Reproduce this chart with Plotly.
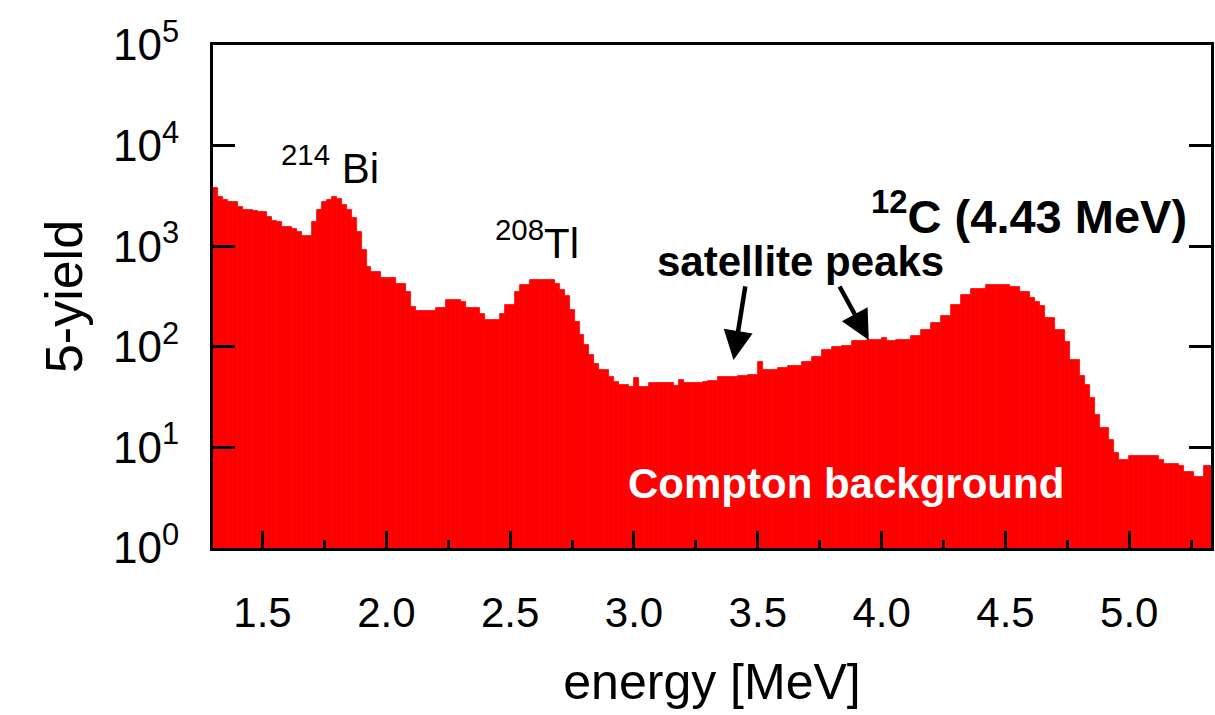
import plotly.graph_objects as go

# gamma spectrum, 0.02 MeV bins starting at 1.30 MeV
bin_start = 1.30
bin_width = 0.02
counts = [
    3800, 3080, 2900, 2750, 2750, 2450, 2290, 2290, 2240, 2190,
    2190, 1950, 1800, 1740, 1550, 1550, 1480, 1380, 1260, 1260,
    1740, 2290, 2750, 2900, 3080, 2950, 2570, 2290, 1900, 1380,
    916, 620, 554, 554, 483, 483, 483, 421, 421, 351,
    250, 227, 227, 227, 227, 243, 243, 292, 292, 292,
    279, 243, 243, 243, 212, 185, 185, 185, 212, 260,
    260, 351, 411, 411, 461, 461, 461, 461, 461, 421,
    367, 320, 232, 176, 131, 104, 83, 67, 59, 59,
    50, 45, 42, 42, 40, 49, 40, 40, 44, 44,
    44, 44, 44, 41, 47, 44, 44, 44, 44, 45,
    46, 46, 50, 50, 50, 50, 51, 51, 52, 52,
    71, 59, 59, 59, 61, 61, 64, 64, 64, 71,
    71, 79, 79, 93, 93, 100, 100, 102, 102, 114,
    114, 114, 117, 117, 117, 122, 114, 114, 117, 117,
    117, 128, 128, 147, 147, 173, 173, 202, 202, 260,
    260, 327, 327, 376, 376, 376, 411, 411, 411, 411,
    411, 393, 393, 351, 351, 306, 280, 255, 193, 193,
    147, 147, 112, 74, 74, 51, 42, 31, 21, 15.6,
    15.6, 11.9, 8.8, 7.5, 7.5, 8.2, 8.2, 8.2, 8.2, 8.2,
    8.2, 7.5, 6.8, 6.8, 6.8, 6.5, 5.7, 5.7, 5.1, 5.1,
    6.5, 6.5,
]
energy = [bin_start + bin_width * (i + 0.5) for i in range(len(counts))]

x_ticks = [1.5, 2.0, 2.5, 3.0, 3.5, 4.0, 4.5, 5.0]
x_labels = ["1.5", "2.0", "2.5", "3.0", "3.5", "4.0", "4.5", "5.0"]
y_ticks = [1, 10, 100, 1000, 10000, 100000]
y_labels = ["10<sup>%d</sup>" % k for k in range(6)]

FONT = "Liberation Sans, Arial, sans-serif"

fig = go.Figure()
fig.add_trace(go.Bar(
    x=energy, y=counts, width=bin_width,
    marker=dict(color="#ff0000", line=dict(color="#ff0000", width=0.8)),
    showlegend=False, hoverinfo="x+y",
))

fig.update_layout(
    width=1215, height=715,
    margin=dict(l=213, r=4, t=45, b=167),
    paper_bgcolor="white", plot_bgcolor="white",
    bargap=0,
    font=dict(family=FONT, color="black", size=40),
)

fig.update_xaxes(
    range=[1.30, 5.33], automargin=False,
    tickvals=x_ticks, ticktext=x_labels,
    ticks="inside", ticklen=17, tickwidth=3, tickcolor="black",
    minor=dict(dtick=0.25, tick0=1.25, ticks="inside", ticklen=8, tickwidth=3, tickcolor="black"),
    showline=True, linewidth=3, linecolor="black", mirror=True,
    showgrid=False, zeroline=False,
    tickfont=dict(size=42), ticklabelstandoff=26,
    title=dict(text="energy [MeV]", font=dict(size=50), standoff=29),
)

fig.update_yaxes(
    type="log", range=[0, 5], automargin=False,
    tickvals=y_ticks, ticktext=y_labels,
    ticks="inside", ticklen=22, tickwidth=3, tickcolor="black",
    showline=True, linewidth=3, linecolor="black", mirror="ticks",
    showgrid=False, zeroline=False,
    tickfont=dict(size=44), ticklabelstandoff=22,
    title=dict(text="5-yield", font=dict(size=52), standoff=14),
)

# peak labels
fig.add_annotation(x=1.773, y=3.81, text="<sup>214</sup> Bi", showarrow=False,
                   font=dict(size=42))
fig.add_annotation(x=2.61, y=3.06, text="<sup>208</sup>Tl", showarrow=False,
                   font=dict(size=42))
fig.add_annotation(x=4.594, y=3.33, text="<b><sup>12</sup>C (4.43 MeV)</b>", showarrow=False,
                   font=dict(size=47))
fig.add_annotation(x=3.673, y=2.843, text="<b>satellite peaks</b>", showarrow=False,
                   font=dict(size=42))
fig.add_annotation(x=3.855, y=0.646, text="<b>Compton background</b>", showarrow=False,
                   font=dict(size=42, color="white"))

# arrows to the satellite peaks
fig.add_annotation(x=3.402, y=1.869, ax=12, ay=-75, text="", showarrow=True,
                   arrowhead=2, arrowsize=1.3, arrowwidth=4.5, arrowcolor="black")
fig.add_annotation(x=3.948, y=2.068, ax=-30, ay=-55, text="", showarrow=True,
                   arrowhead=2, arrowsize=1.3, arrowwidth=4.5, arrowcolor="black")

fig.write_html("out.html",
               config={"displayModeBar": False},
               post_script="document.body.style.margin='0';document.body.style.overflow='hidden';")
